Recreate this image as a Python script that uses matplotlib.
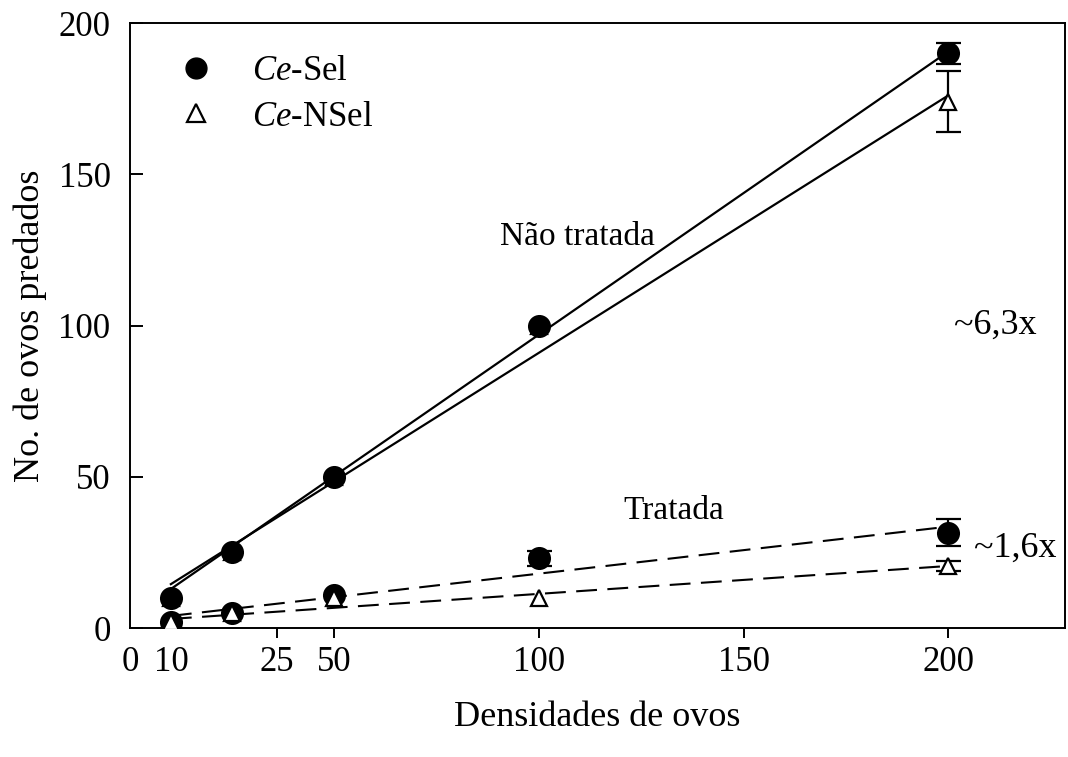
import matplotlib
matplotlib.use('Agg')
import matplotlib.pyplot as plt
from matplotlib.lines import Line2D

plt.rcParams['font.family'] = ['Liberation Serif', 'DejaVu Serif']
plt.rcParams['mathtext.fontset'] = 'custom'
plt.rcParams['mathtext.rm'] = 'Liberation Serif'
plt.rcParams['mathtext.it'] = 'Liberation Serif:italic'

# densities
dens = [10, 25, 50, 100, 200]

# untreated (Nao tratada)
sel_nt = [10, 25, 50, 100, 190]
sel_nt_err = [0, 0, 0, 0, 3.5]
nsel_nt = [10, 25, 50, 100, 174]
nsel_nt_err = [0, 0, 0, 0, 10]

# treated (Tratada)
sel_t = [2, 5, 11, 23, 31.5]
sel_t_err = [0, 0, 0, 2.5, 4.5]
nsel_t = [2, 5, 10, 10, 20.5]
nsel_t_err = [0, 0, 0, 0, 1.5]

# regression line end points
fit_x = [10, 200]
sel_nt_fit = [12.9, 190.5]
nsel_nt_fit = [14.5, 176]
sel_t_fit = [4.0, 33.5]
nsel_t_fit = [3.0, 20.5]

xtick_pos = [0, 10, 36, 50, 100, 150, 200]
xtick_labels = ['0', '10', '25', '50', '100', '150', '200']
yticks = [0, 50, 100, 150, 200]

fig = plt.figure(figsize=(10.68, 7.57), dpi=100)
ax = fig.add_axes([0.1217, 0.1704, 0.8755, 0.7992])

# fitted lines
ax.plot(fit_x, sel_nt_fit, 'k-', lw=1.6, zorder=2)
ax.plot(fit_x, nsel_nt_fit, 'k-', lw=1.6, zorder=2)
ax.plot(fit_x, sel_t_fit, 'k--', lw=1.5, dashes=(10, 5), zorder=2)
ax.plot(fit_x, nsel_t_fit, 'k--', lw=1.5, dashes=(10, 5), zorder=2)


def series(y, err, marker, ms, fc, z):
    ax.plot(dens, y, marker, ls='none', ms=ms, mfc=fc, mec='k', mew=1.6, zorder=z)
    xs = [d for d, e in zip(dens, err) if e > 0]
    ys = [v for v, e in zip(y, err) if e > 0]
    es = [e for e in err if e > 0]
    if xs:
        ax.errorbar(xs, ys, yerr=es, fmt='none', ecolor='k', elinewidth=1.6,
                    capsize=9, capthick=1.6, zorder=z - 0.5)


series(nsel_nt, nsel_nt_err, '^', 12, 'white', 3)
series(sel_nt, sel_nt_err, 'o', 15, 'k', 4)
series(sel_t, sel_t_err, 'o', 15, 'k', 4)
series(nsel_t, nsel_t_err, '^', 12, 'white', 5)

ax.set_xlim(0, 228.6)
ax.set_ylim(0, 200)
ax.set_xticks(xtick_pos)
ax.set_xticklabels(xtick_labels)
ax.set_yticks(yticks)
for i in (0, 1):
    ax.xaxis.get_major_ticks()[i].tick1line.set_visible(False)

ax.tick_params(axis='x', direction='out', length=7, width=1.4, labelsize=25, pad=6)
ax.tick_params(axis='y', direction='in', length=9, width=1.4, labelsize=25, pad=14)
for s in ax.spines.values():
    s.set_linewidth(1.4)

ax.set_xlabel('Densidades de ovos', fontsize=26, labelpad=16)
ax.set_ylabel('No. de ovos predados', fontsize=26, labelpad=8)

ax.text(109.5, 129.3, 'Não tratada', fontsize=24, ha='center', va='center')
ax.text(133, 38.7, 'Tratada', fontsize=24, ha='center', va='center')
ax.text(211.5, 100.2, '~6,3x', fontsize=26, ha='center', va='center')
ax.text(216.4, 26.4, '~1,6x', fontsize=26, ha='center', va='center')

handles = [
    Line2D([], [], marker='o', ls='none', ms=15, mfc='k', mec='k'),
    Line2D([], [], marker='^', ls='none', ms=13, mfc='white', mec='k', mew=1.6),
]
ax.legend(handles, [r'$\it{Ce}$-Sel', r'$\it{Ce}$-NSel'], loc='upper left',
          bbox_to_anchor=(0.0, 0.998), frameon=False, fontsize=25,
          handletextpad=0.6, labelspacing=0.35)

fig.savefig('out.png', dpi=100)
